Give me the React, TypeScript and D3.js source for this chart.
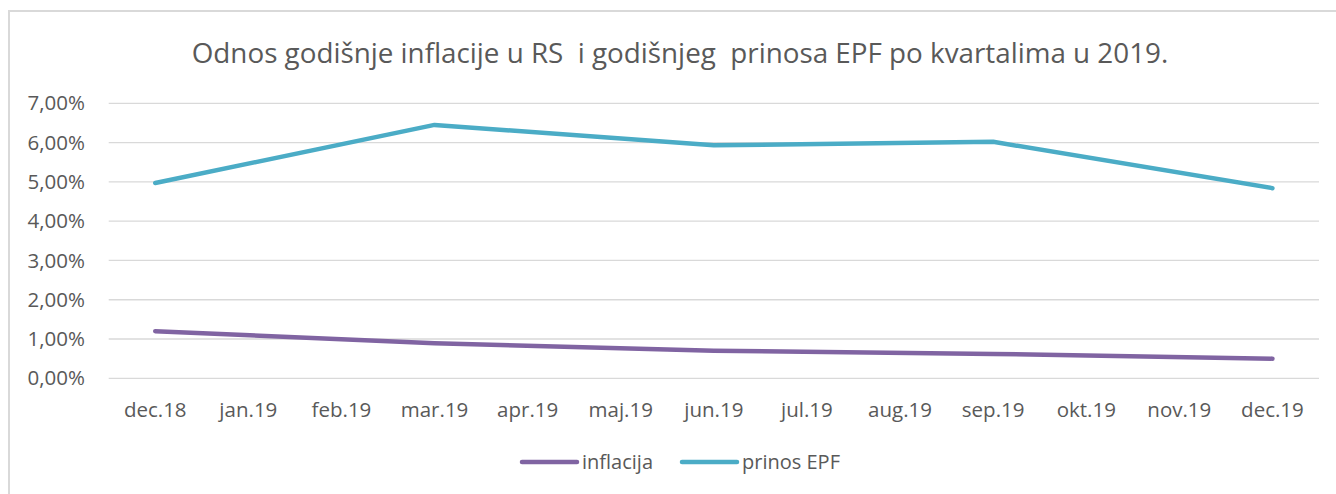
import React from "react";
import * as d3 from "d3";

const categories = ["dec.18", "jan.19", "feb.19", "mar.19", "apr.19", "maj.19", "jun.19", "jul.19", "aug.19", "sep.19", "okt.19", "nov.19", "dec.19"];
const inflacija: (number | null)[] = [1.2, null, null, 0.89, null, null, 0.7, null, null, 0.62, null, null, 0.5];
const prinosEPF: (number | null)[] = [4.97, null, null, 6.45, null, null, 5.93, null, null, 6.02, null, null, 4.84];
const yTicks = [0, 1, 2, 3, 4, 5, 6, 7];
const seriesNames = ["inflacija", "prinos EPF"];
const title = "Odnos godišnje inflacije u RS  i godišnjeg  prinosa EPF po kvartalima u 2019.";

const W = 1336, H = 494;
const FONT = "'Open Sans', sans-serif";
const TXT = "#595959";
const colors = ["#8064a2", "#4bacc6"];

export default function App() {
  const x = d3.scaleBand<string>().domain(categories).range([108.7, 1319]);
  const y = d3.scaleLinear().domain([0, 7]).range([378.3, 103.3]);
  const line = d3.line<{ c: string; v: number }>()
    .x(d => (x(d.c) as number) + x.bandwidth() / 2)
    .y(d => y(d.v));
  const series = [inflacija, prinosEPF].map(arr =>
    categories.map((c, i) => ({ c, v: arr[i] })).filter(d => d.v !== null) as { c: string; v: number }[]
  );
  const legendX = [522, 682];
  return (
    <svg width={W} height={H} style={{ position: "absolute", left: 0, top: 0 }}>
      <rect x={0} y={0} width={W} height={H} fill="#fff" />
      <rect x={9} y={11} width={W + 20} height={H + 20} fill="#fff" stroke="#d9d9d9" strokeWidth={2} />
      <text x={680} y={63} textAnchor="middle" fontFamily={FONT} fontSize={27.8} fill={TXT} style={{ whiteSpace: "pre" }}>{title}</text>
      {yTicks.map(t => (
        <g key={t}>
          <line x1={108.7} x2={1319} y1={y(t)} y2={y(t)} stroke="#d9d9d9" strokeWidth={1.3} />
          <text x={85} y={y(t)} dy="0.35em" textAnchor="end" fontFamily={FONT} fontSize={20.5} fill={TXT}>
            {t.toFixed(2).replace(".", ",") + "%"}
          </text>
        </g>
      ))}
      {categories.map(c => (
        <text key={c} x={(x(c) as number) + x.bandwidth() / 2} y={417} textAnchor="middle" fontFamily={FONT} fontSize={20.5} fill={TXT}>{c}</text>
      ))}
      {series.map((s, i) => (
        <path key={i} d={line(s) as string} fill="none" stroke={colors[i]} strokeWidth={4.5} strokeLinecap="round" strokeLinejoin="round" />
      ))}
      {seriesNames.map((n, i) => (
        <g key={n}>
          <line x1={legendX[i]} x2={legendX[i] + 55} y1={462} y2={462} stroke={colors[i]} strokeWidth={4.5} strokeLinecap="round" />
          <text x={legendX[i] + 60} y={462} dy="0.35em" fontFamily={FONT} fontSize={20} fill={TXT}>{n}</text>
        </g>
      ))}
    </svg>
  );
}
